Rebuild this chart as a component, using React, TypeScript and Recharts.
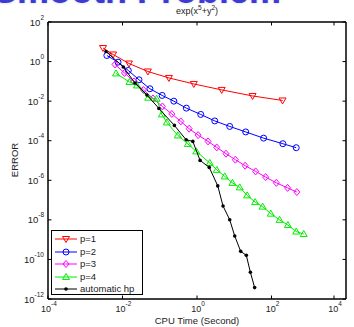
import React from "react";
import { ScatterChart, Scatter, XAxis, YAxis, Legend, ReferenceLine } from "recharts";

// CPU time (s) / error pairs
const p1Time = [0.003, 0.0056, 0.0149, 0.048, 0.176, 0.82, 4.6, 31, 198];
const p1Err = [4.86, 2.28, 0.8, 0.316, 0.149, 0.074, 0.037, 0.0183, 0.0108];

const p2Time = [0.0038, 0.0076, 0.0143, 0.0277, 0.0544, 0.116, 0.239, 0.518, 1.26, 3.0, 7.55, 20.3, 61.4, 202, 461];
const p2Err = [2.03, 0.933, 0.356, 0.12, 0.0423, 0.0194, 0.01, 0.00443, 0.00213, 0.001, 0.000527, 0.000278, 0.000135, 7.05e-5, 4.43e-5];

const p3Time = [0.0063, 0.0113, 0.0203, 0.0365, 0.0656, 0.118, 0.211, 0.368, 0.615, 1.07, 1.98, 3.39, 6.01, 10.7, 19.6, 37.5, 69.5, 135, 270, 479];
const p3Err = [0.714, 0.266, 0.0989, 0.0368, 0.0137, 0.0054, 0.00226, 0.000944, 0.000404, 0.000192, 9.22e-5, 4.59e-5, 2.2e-5, 1.1e-5, 5.46e-6, 2.81e-6, 1.45e-6, 7.4e-7, 4.13e-7, 2.54e-7];

const p4Time = [0.0067, 0.0154, 0.0244, 0.0491, 0.0824, 0.114, 0.155, 0.306, 0.568, 0.957, 2.2, 3.39, 5.55, 8.92, 14.0, 22.2, 36.4, 57.8, 95.7, 165, 275, 461, 733];
const p4Err = [0.251, 0.0933, 0.0621, 0.0149, 0.0132, 0.00213, 0.00084, 0.000185, 6.9e-5, 2.88e-5, 7.57e-6, 3.35e-6, 1.57e-6, 7.4e-7, 4.38e-7, 1.73e-7, 7.9e-8, 4.65e-8, 2.06e-8, 1e-8, 5.46e-9, 2.56e-9, 1.92e-9];

const hpTime = [0.0036, 0.0105, 0.0216, 0.0453, 0.0948, 0.247, 0.511, 0.773, 1.21, 2.13, 3.61, 5.0, 7.55, 10.3, 14.9, 21.1, 27.1, 35.3];
const hpErr = [3.24, 0.533, 0.083, 0.0206, 0.00428, 0.000593, 0.000112, 9.22e-5, 1.01e-5, 4.49e-6, 5.21e-7, 4.98e-8, 1.02e-8, 1.52e-9, 2.56e-10, 1.61e-10, 2.23e-11, 3.77e-12];

const xTicks = [1e-4, 1e-2, 1, 1e2, 1e4];
const yTicks = [1e-12, 1e-10, 1e-8, 1e-6, 1e-4, 1e-2, 1, 1e2];

const toPoints = (xs: number[], ys: number[]) => xs.map((x, i) => ({ x, y: ys[i] }));

const series = [
  { name: "p=1", color: "#ff0000", marker: "tridown", data: toPoints(p1Time, p1Err) },
  { name: "p=2", color: "#0000ff", marker: "circle", data: toPoints(p2Time, p2Err) },
  { name: "p=3", color: "#ff00ff", marker: "diamond", data: toPoints(p3Time, p3Err) },
  { name: "p=4", color: "#00ee00", marker: "triup", data: toPoints(p4Time, p4Err) },
  { name: "automatic hp", color: "#000000", marker: "dot", data: toPoints(hpTime, hpErr) },
];

const W = 354;
const H = 327;
const LEFT = 48;
const RIGHT = 346;
const TOP = 22;
const BOTTOM = 299;
const FONT = "'Liberation Sans', Arial, Helvetica, sans-serif";

function Marker({ kind, cx, cy, color }: { kind: string; cx: number; cy: number; color: string }) {
  if (cx == null || cy == null || isNaN(cx) || isNaN(cy)) return null;
  switch (kind) {
    case "tridown":
      return <polygon points={`${cx - 3.5},${cy - 2.5} ${cx + 3.5},${cy - 2.5} ${cx},${cy + 3.5}`} fill="none" stroke={color} strokeWidth={1} />;
    case "triup":
      return <polygon points={`${cx - 3.5},${cy + 2.5} ${cx + 3.5},${cy + 2.5} ${cx},${cy - 3.5}`} fill="none" stroke={color} strokeWidth={1} />;
    case "circle":
      return <circle cx={cx} cy={cy} r={3} fill="none" stroke={color} strokeWidth={1} />;
    case "diamond":
      return <polygon points={`${cx},${cy - 3.5} ${cx + 3},${cy} ${cx},${cy + 3.5} ${cx - 3},${cy}`} fill="none" stroke={color} strokeWidth={1} />;
    default:
      return <circle cx={cx} cy={cy} r={1.8} fill={color} stroke="none" />;
  }
}

const expOf = (v: number) => Math.round(Math.log10(v));

function XTick(props: any) {
  const { x, payload } = props;
  const e = expOf(payload.value);
  return (
    <g>
      <line x1={x} x2={x} y1={BOTTOM} y2={BOTTOM - 3.5} stroke="#000" />
      <line x1={x} x2={x} y1={TOP} y2={TOP + 3.5} stroke="#000" />
      <text x={x + 1} y={312} textAnchor="middle" fontSize={9} fill="#222" fontFamily={FONT}>
        10<tspan dy={-6} fontSize={6.5}>{e}</tspan>
      </text>
    </g>
  );
}

function YTick(props: any) {
  const { y, payload } = props;
  const e = expOf(payload.value);
  return (
    <g>
      <line x1={LEFT} x2={LEFT + 3.5} y1={y} y2={y} stroke="#000" />
      <line x1={RIGHT} x2={RIGHT - 3.5} y1={y} y2={y} stroke="#000" />
      <text x={44} y={y + 3.5} textAnchor="end" fontSize={9.5} fill="#222" fontFamily={FONT}>
        10<tspan dy={-6} fontSize={6.5}>{e}</tspan>
      </text>
    </g>
  );
}

function LegendBox() {
  return (
    <div style={{ width: 92, height: 65, border: "1px solid #000", background: "#fff", fontFamily: FONT, fontSize: 9.5, color: "#222", boxSizing: "border-box", paddingTop: 2 }}>
      {series.map((s) => (
        <div key={s.name} style={{ display: "flex", alignItems: "center", height: 12.5 }}>
          <svg width={26} height={12} style={{ marginLeft: 2, flex: "none" }}>
            <line x1={1} x2={23} y1={6} y2={6} stroke={s.color} strokeWidth={1} />
            <Marker kind={s.marker} cx={12} cy={6} color={s.color} />
          </svg>
          <span style={{ lineHeight: "12px", whiteSpace: "nowrap" }}>{s.name}</span>
        </div>
      ))}
    </div>
  );
}

export default function App() {
  return (
    <div style={{ position: "absolute", left: 0, top: 0, width: W, height: H, background: "#fff", overflow: "hidden" }}>
      <div style={{ position: "absolute", left: -7, top: -27, fontFamily: FONT, fontWeight: "bold", fontSize: 36, lineHeight: "36px", color: "#3c3cd2", whiteSpace: "nowrap", textShadow: "0 0 3px #c8c8f0" }}>
        Smooth Problem
      </div>
      <div style={{ position: "absolute", left: 0, width: W, top: 4, textAlign: "center", paddingLeft: 40, boxSizing: "border-box", fontFamily: FONT, fontSize: 9, color: "#222" }}>
        exp(x<sup style={{ fontSize: 6.5 }}>5</sup>+y<sup style={{ fontSize: 6.5 }}>2</sup>)
      </div>
      <ScatterChart width={W} height={H} margin={{ top: TOP, right: W - RIGHT, bottom: 0, left: 8 }} style={{ position: "absolute", left: 0, top: 0 }}>
        <XAxis
          dataKey="x"
          type="number"
          scale="log"
          domain={[1e-4, 1e4]}
          ticks={xTicks}
          allowDataOverflow
          height={H - BOTTOM}
          tickSize={0}
          tickMargin={4}
          tick={<XTick />}
          axisLine={{ stroke: "#000", strokeWidth: 1.5 }}
          label={{ content: () => <text x={197} y={323.5} textAnchor="middle" fontSize={9.5} fill="#222" fontFamily={FONT}>CPU Time (Second)</text> }}
        />
        <YAxis
          dataKey="y"
          type="number"
          scale="log"
          domain={[1e-12, 1e2]}
          ticks={yTicks}
          allowDataOverflow
          width={LEFT - 8}
          tickSize={0}
          tickMargin={4}
          tick={<YTick />}
          axisLine={{ stroke: "#000", strokeWidth: 1.5 }}
          label={{ content: () => <text x={18} y={160} textAnchor="middle" fontSize={9.5} fill="#222" fontFamily={FONT} transform="rotate(-90 18 160)">ERROR</text> }}
        />
        <ReferenceLine y={1e2} stroke="#000" strokeWidth={1.5} />
        <ReferenceLine x={1e4} stroke="#000" strokeWidth={1.5} />
        {series.map((s) => (
          <Scatter
            key={s.name}
            name={s.name}
            data={s.data}
            line={{ stroke: s.color, strokeWidth: 1 }}
            lineType="joint"
            isAnimationActive={false}
            shape={(p: any) => <Marker kind={s.marker} cx={p.cx} cy={p.cy} color={s.color} />}
          />
        ))}
        <Legend
          layout="vertical"
          align="center"
          verticalAlign="middle"
          content={() => <LegendBox />}
          wrapperStyle={{ position: "absolute", left: 51, top: 230, width: 92, height: 65 }}
        />
      </ScatterChart>
    </div>
  );
}
